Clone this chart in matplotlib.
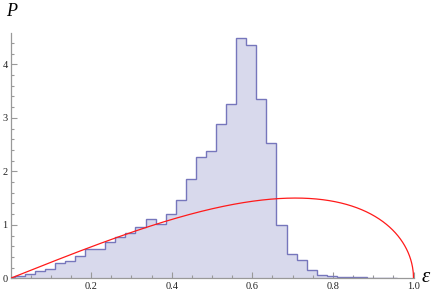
import numpy as np
import matplotlib.pyplot as plt
from matplotlib.ticker import MultipleLocator, FixedLocator

# histogram: bin width 0.025, first edge at -0.015
bin_start = -0.015
bin_width = 0.025
heights = [0.02, 0.04, 0.086, 0.13, 0.17, 0.29, 0.32, 0.41, 0.54, 0.54, 0.67,
           0.78, 0.84, 0.95, 1.11, 1.01, 1.20, 1.46, 1.85, 2.26, 2.38, 2.88,
           3.26, 4.49, 4.36, 3.35, 2.52, 0.99, 0.46, 0.34, 0.15, 0.07, 0.04,
           0.025, 0.02, 0.015, 0.01, 0.008, 0.005]

# theory curve P(e) = A * e * sqrt(1 - e^2), amplitude
amplitude = 3.0

x_ticks = [0.2, 0.4, 0.6, 0.8, 1.0]
x_labels = ['0.2', '0.4', '0.6', '0.8', '1.0']
y_ticks = [0, 1, 2, 3, 4]

plt.rcParams['font.family'] = ['Liberation Serif', 'DejaVu Serif']

fig = plt.figure(figsize=(4.36, 2.95), dpi=100)
ax = fig.add_axes([10.5 / 436, 16.7 / 295, 403 / 436, 245 / 295])

edges = bin_start + bin_width * np.arange(len(heights) + 1)
ax.stairs(heights, edges, fill=True, color='#d8d9ec', zorder=1)
ax.stairs(heights, edges, color='#7676bc', lw=1.0, zorder=2)

e = np.linspace(0, 1, 2000)
ax.plot(e, amplitude * e * np.sqrt(1 - e ** 2), color='#ff1a1a', lw=0.9, zorder=3)

ax.set_xlim(0, 1.0)
ax.set_ylim(0, 4.58)

for s in ['top', 'right']:
    ax.spines[s].set_visible(False)
for s in ['left', 'bottom']:
    ax.spines[s].set_color('#999999')
    ax.spines[s].set_linewidth(0.9)

ax.xaxis.set_major_locator(FixedLocator(x_ticks))
ax.set_xticklabels(x_labels)
ax.xaxis.set_minor_locator(MultipleLocator(0.05))
ax.yaxis.set_major_locator(FixedLocator(y_ticks))
ax.yaxis.set_minor_locator(MultipleLocator(0.2))
ax.tick_params(which='both', direction='in', colors='#999999', labelcolor='#222222',
               labelsize=7.5, width=0.8)
ax.tick_params(which='major', length=4, pad=3)
ax.tick_params(which='minor', length=2.5)
ax.tick_params(axis='y', pad=2)

fig.text(6 / 436, 1 - 12 / 295, 'P', style='italic', fontsize=13, ha='left', va='center')
fig.text(422 / 436, 1 - 277 / 295, 'ε', style='italic', fontsize=15, ha='left', va='center')

fig.savefig('out.png', dpi=100)
